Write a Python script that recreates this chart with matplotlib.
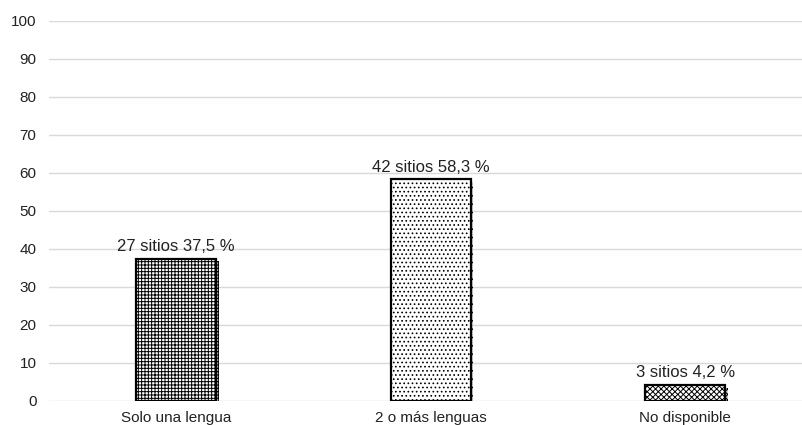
import matplotlib.pyplot as plt
import matplotlib.patheffects as pe

categorias = ["Solo una lengua", "2 o más lenguas", "No disponible"]
porcentajes = [37.5, 58.3, 4.2]
sitios = [27, 42, 3]
tramas = ["+++++", "....", "xxxxxx"]

plt.rcParams['font.family'] = ['Liberation Sans', 'DejaVu Sans']
plt.rcParams['hatch.linewidth'] = 0.7

fig = plt.figure(figsize=(8.02, 4.25), dpi=100)
ax = fig.add_axes([49 / 802, 24 / 425, 1 - 49 / 802, 380 / 425])

x = range(len(categorias))
barras = ax.bar(x, porcentajes, width=0.314, color="white", edgecolor="black",
                linewidth=1.6, zorder=3)
for b, h in zip(barras, tramas):
    b.set_hatch(h)
    b.set_path_effects([pe.SimplePatchShadow(offset=(2, -2), shadow_rgbFace="#999999", alpha=0.5),
                        pe.Normal()])

for xi, p, s in zip(x, porcentajes, sitios):
    ax.text(xi, p + 1.2, f"{s} sitios {p:.1f} %".replace(".", ","),
            ha="center", va="bottom", fontsize=12, color="#222222")

ax.set_ylim(0, 100)
ax.set_xlim(-0.5, -0.5 + 753 / 254.5)
ax.set_yticks(range(0, 101, 10))
ax.set_xticks(list(x))
ax.set_xticklabels(categorias)
ax.grid(axis="y", color="#d9d9d9", linewidth=1, zorder=0)
for s in ax.spines.values():
    s.set_visible(False)
ax.tick_params(axis="both", length=0, labelsize=11, colors="#222222")
ax.tick_params(axis="y", pad=9)
ax.tick_params(axis="x", pad=7)

fig.savefig("out.png", dpi=100)
